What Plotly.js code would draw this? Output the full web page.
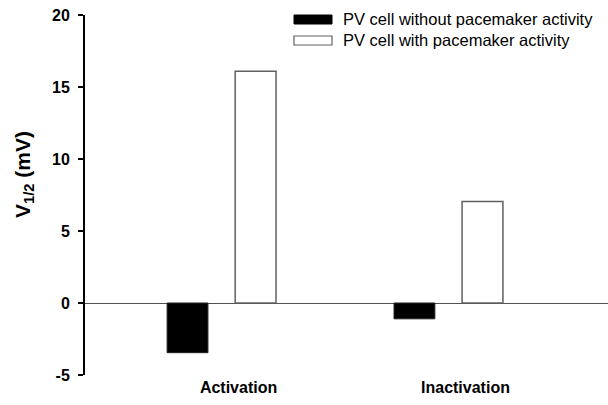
<!DOCTYPE html>
<html>
<head>
<meta charset="utf-8">
<script src="https://cdn.plot.ly/plotly-3.0.1.min.js"></script>
<style>html,body{margin:0;padding:0;background:#fff;}</style>
</head>
<body>
<div id="chart" style="width:608px;height:405px;"></div>
<script>
// Data
const categories = ["Activation", "Inactivation"];
const seriesNames = ["PV cell without pacemaker activity", "PV cell with pacemaker activity"];
const withoutPacemaker = [-3.45, -1.1];
const withPacemaker = [16.1, 7.05];
const yTickValues = [-5, 0, 5, 10, 15, 20];
const yTitle = "V<sub>1/2</sub> (mV)";

const FONT = "Arial, 'Liberation Sans', sans-serif";

const traces = [
  {
    type: "bar",
    name: seriesNames[0],
    x: categories,
    y: withoutPacemaker,
    marker: {color: "#000000", line: {color: "#222222", width: 1}},
    showlegend: false,
    hoverinfo: "x+y"
  },
  {
    type: "bar",
    name: seriesNames[1],
    x: categories,
    y: withPacemaker,
    marker: {color: "#ffffff", line: {color: "#606060", width: 1.5}},
    showlegend: false,
    hoverinfo: "x+y"
  }
];

// legend drawn as swatches + text labels (paper coordinates)
const W = 608, H = 405, ML = 85, MR = 0, MT = 15, MB = 30;
const PW = W - ML - MR, PH = H - MT - MB;
const px = v => (v - ML) / PW;
const py = v => (H - MB - v) / PH;

const layout = {
  width: W, height: H,
  margin: {l: ML, r: MR, t: MT, b: MB, pad: 0},
  paper_bgcolor: "#ffffff",
  plot_bgcolor: "#ffffff",
  barmode: "group",
  bargap: 0.4,
  bargroupgap: 0.4,
  showlegend: false,
  font: {family: FONT, color: "#000"},
  xaxis: {
    type: "category",
    range: [-0.6018, 1.703],
    showline: false,
    showgrid: false,
    zeroline: false,
    ticks: "",
    tickfont: {family: FONT, size: 16, weight: "bold", color: "#000"},
    ticklabelshift: 17,
    ticklabelstandoff: 1,
    fixedrange: true
  },
  yaxis: {
    range: [-5, 20],
    tickvals: yTickValues,
    ticktext: yTickValues.map(String),
    showline: true,
    linecolor: "#000",
    linewidth: 2,
    ticks: "outside",
    ticklen: 5,
    tickwidth: 1.5,
    tickcolor: "#000",
    ticklabelstandoff: 5,
    showgrid: false,
    zeroline: true,
    zerolinecolor: "#505050",
    zerolinewidth: 1,
    tickfont: {family: FONT, size: 16, weight: "bold", color: "#000"},
    automargin: false,
    fixedrange: true
  },
  shapes: [
    {type: "rect", xref: "paper", yref: "paper",
     x0: px(294), x1: px(332), y0: py(24), y1: py(15),
     fillcolor: "#000", line: {color: "#000", width: 1}},
    {type: "rect", xref: "paper", yref: "paper",
     x0: px(294), x1: px(332), y0: py(45), y1: py(36),
     fillcolor: "#fff", line: {color: "#606060", width: 1.2}}
  ],
  annotations: [
    {xref: "paper", yref: "paper", x: px(341), y: py(19.5), xanchor: "left", yanchor: "middle",
     text: seriesNames[0], showarrow: false, font: {family: FONT, size: 16.5, color: "#000"}},
    {xref: "paper", yref: "paper", x: px(341), y: py(40.5), xanchor: "left", yanchor: "middle",
     text: seriesNames[1], showarrow: false, font: {family: FONT, size: 16.5, color: "#000"}},
    {xref: "paper", yref: "paper", x: px(24), y: py(175), xanchor: "center", yanchor: "middle",
     textangle: -90, text: yTitle, showarrow: false,
     font: {family: FONT, size: 21, weight: "bold", color: "#000"}}
  ]
};

Plotly.newPlot("chart", traces, layout, {staticPlot: true, displayModeBar: false});
</script>
</body>
</html>
